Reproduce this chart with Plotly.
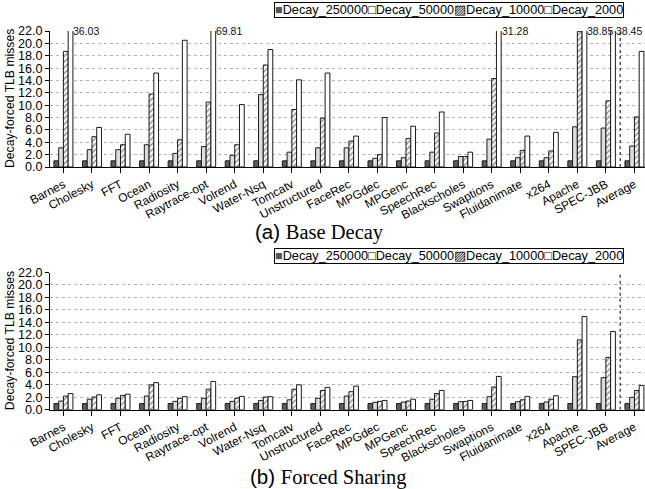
import plotly.graph_objects as go

categories = ["Barnes", "Cholesky", "FFT", "Ocean", "Radiosity", "Raytrace-opt", "Volrend",
              "Water-Nsq", "Tomcatv", "Unstructured", "FaceRec", "MPGdec", "MPGenc", "SpeechRec",
              "Blackscholes", "Swaptions", "Fluidanimate", "x264", "Apache", "SPEC-JBB", "Average"]
series_names = ["Decay_250000", "Decay_50000", "Decay_10000", "Decay_2000"]

# (a) Base Decay
base_250000 = [1.0] * 21
base_50000 = [3.1, 2.8, 2.8, 3.6, 2.2, 3.3, 1.9, 11.7, 2.4, 3.1, 3.1, 1.4, 1.5, 2.4, 1.7, 4.5, 1.5, 1.5, 6.5, 6.3, 3.4]
base_10000 = [18.7, 4.9, 3.6, 11.8, 4.4, 10.5, 3.6, 16.5, 9.3, 7.9, 4.2, 2.0, 4.6, 5.5, 1.7, 14.3, 2.7, 2.6, 21.95, 10.7, 8.1]
base_2000 = [36.03, 6.4, 5.3, 15.2, 20.5, 69.81, 10.1, 19.0, 14.1, 15.2, 5.0, 8.0, 6.6, 8.9, 2.4, 31.28, 5.0, 5.6, 38.85, 38.45, 18.7]

# (b) Forced Sharing
share_250000 = [1.0] * 21
share_50000 = [1.4, 1.7, 1.85, 2.2, 1.35, 1.85, 1.35, 1.5, 1.6, 1.85, 2.2, 1.2, 1.25, 1.7, 1.3, 2.1, 1.3, 1.25, 5.3, 5.15, 2.0]
share_10000 = [2.2, 2.05, 2.3, 4.0, 1.85, 3.3, 1.85, 2.05, 3.3, 3.1, 2.9, 1.35, 1.4, 2.6, 1.35, 3.65, 1.6, 1.7, 11.2, 8.4, 3.1]
share_2000 = [2.6, 2.4, 2.5, 4.35, 2.1, 4.55, 2.15, 2.1, 4.0, 3.6, 3.8, 1.5, 1.7, 3.1, 1.5, 5.35, 2.15, 2.25, 14.96, 12.56, 3.9]

y_ticks = [0, 2, 4, 6, 8, 10, 12, 14, 16, 18, 20, 22]
y_max = 22
y_title = "Decay-forced TLB misses"
subtitles = ["(a)", "Base Decay", "(b)", "Forced Sharing"]

# ---------- style ----------
W, H = 645, 489
ML = 50
FONT = "Liberation Sans, Arial, sans-serif"
x_range = [-0.47, 20.37]
bargap = 0.335
edge = "#1a1a1a"
styles = [
    dict(color="#5e5e5e"),
    dict(color="#dddddd"),
    dict(color="white", pattern=dict(shape="/", fgcolor="#111111", bgcolor="white", size=4, solidity=0.35)),
    dict(color="white"),
]

fig = go.Figure()
panels = [
    ([base_250000, base_50000, base_10000, base_2000], "x", "y"),
    ([share_250000, share_50000, share_10000, share_2000], "x2", "y2"),
]
for vals, xa, ya in panels:
    for name, v, st in zip(series_names, vals, styles):
        m = dict(st)
        m["line"] = dict(color=edge, width=1)
        fig.add_trace(go.Bar(x=categories, y=v, name=name, marker=m, xaxis=xa, yaxis=ya,
                             showlegend=False, hoverinfo="skip"))

plot_w = W - ML
pitch = plot_w / (x_range[1] - x_range[0])
group_w = (1 - bargap) * pitch
bar_w = group_w / len(series_names)

annotations = []
for vals, xa, ya in panels:
    for i, v in enumerate(vals):
        for c, val in zip(categories, v):
            if val > y_max:
                annotations.append(dict(
                    x=c, y=y_max, xref=xa, yref=ya, text=f"{val:.2f}", showarrow=False,
                    xanchor="left", yanchor="middle", xshift=(i + 1) * bar_w - group_w / 2 - 1.5,
                    font=dict(family=FONT, size=10.5, color="#111"),
                ))

legend_text = ("<span style='color:#555'>■</span>" + series_names[0] +
               "□" + series_names[1] +
               "▨" + series_names[2] +
               "□" + series_names[3])
for ly in [1 - 10.5 / H, 1 - 255.5 / H]:
    annotations.append(dict(
        x=(449 - ML) / plot_w, y=ly, xref="paper", yref="paper", text=legend_text,
        showarrow=False, xanchor="center", yanchor="middle",
        font=dict(family=FONT, size=12.7, color="black"),
        bordercolor="black", borderwidth=1, borderpad=0, bgcolor="white",
    ))

serif = "font-family:\"Liberation Serif\", \"DejaVu Serif\", serif"
for (tag, txt), (cx, cy) in zip([(subtitles[0], subtitles[1]), (subtitles[2], subtitles[3])],
                                [(319, 232.5), (328, 476.5)]):
    annotations.append(dict(
        x=(cx - ML) / plot_w, y=1 - cy / H, xref="paper", yref="paper",
        text=f"{tag} <span style='{serif}'>{txt}</span>",
        showarrow=False, xanchor="center", yanchor="middle",
        font=dict(family=FONT, size=20.5, color="black"),
    ))

top_dom = [1 - 167 / H, 1 - 31 / H]
bot_dom = [1 - 409.8 / H, 1 - 272.5 / H]

# y-axis titles
for dom in [top_dom, bot_dom]:
    annotations.append(dict(
        x=(10 - ML) / plot_w, y=(dom[0] + dom[1]) / 2, xref="paper", yref="paper",
        text=y_title, textangle=-90, showarrow=False, xanchor="center", yanchor="middle",
        font=dict(family=FONT, size=12.2, color="black"),
    ))

sep_x = categories.index("Average") - 0.5
shapes = []
for xa, ya in [("x", "y"), ("x2", "y2")]:
    shapes.append(dict(type="line", xref=xa, yref=ya, x0=sep_x, x1=sep_x, y0=0, y1=y_max,
                       line=dict(color="black", width=1, dash="dot")))

xaxis_style = dict(type="category", range=x_range, showline=True, linecolor="black", linewidth=1,
                   ticks="outside", ticklen=5, tickcolor="black", tickangle=-28,
                   tickfont=dict(family=FONT, size=12, color="black"),
                   showgrid=False, zeroline=False, automargin=False)
yaxis_style = dict(range=[0, y_max], tickvals=y_ticks, tickformat=".1f", showline=True,
                   linecolor="black", linewidth=1, ticks="outside", ticklen=4, tickcolor="black",
                   tickfont=dict(family=FONT, size=12.6, color="black"),
                   showgrid=True, gridcolor="#b5b5b5", griddash="dot", gridwidth=1, zeroline=False,
                   automargin=False)

fig.update_layout(
    width=W, height=H, margin=dict(l=ML, r=0, t=0, b=0, autoexpand=False),
    paper_bgcolor="white", plot_bgcolor="white",
    barmode="group", bargap=bargap, bargroupgap=0,
    xaxis=dict(anchor="y", domain=[0, 1], **xaxis_style),
    yaxis=dict(anchor="x", domain=top_dom, **yaxis_style),
    xaxis2=dict(anchor="y2", domain=[0, 1], **xaxis_style),
    yaxis2=dict(anchor="x2", domain=bot_dom, **yaxis_style),
    annotations=annotations, shapes=shapes, showlegend=False, hovermode=False,
    font=dict(family=FONT, color="black"),
)

fig.write_html("out.html", config={"displayModeBar": False, "staticPlot": True},
               post_script="document.body.style.margin='0';document.body.style.overflow='hidden';")
